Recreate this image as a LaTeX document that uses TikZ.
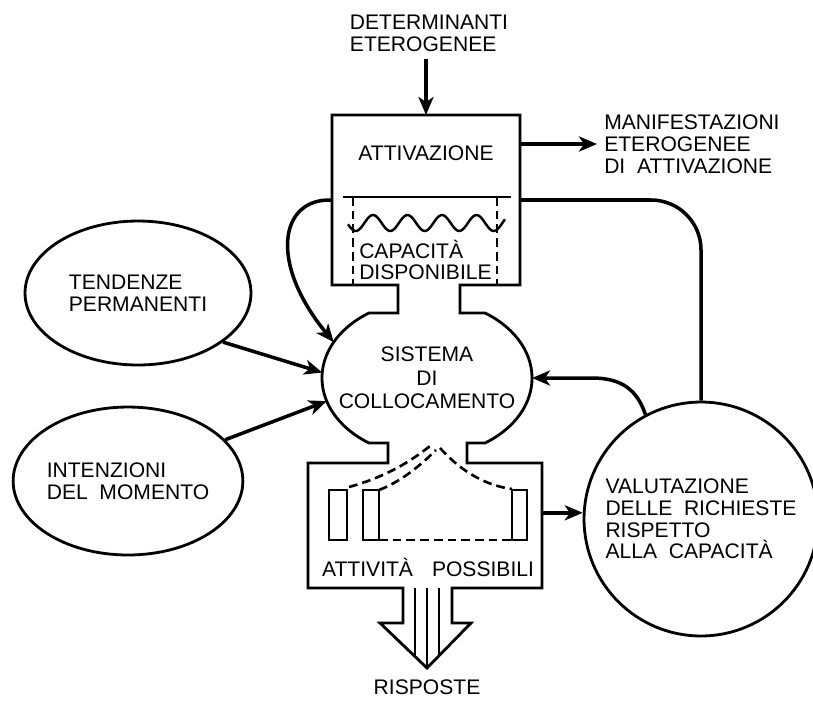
\documentclass[tikz,border=0pt]{standalone}
\usepackage{fontspec}
\setmainfont{Liberation Sans}
\usetikzlibrary{arrows.meta,shapes.geometric}

\tikzset{
  txt/.style={font=\fontsize{12}{12.4}\selectfont, align=left},
  oval/.style={draw, ellipse, inner sep=0pt, txt, minimum width=4.52cm},
  arr/.style={line width=2pt, -{Stealth[length=3.6mm,width=3mm,inset=1mm]}},
  dsh/.style={line width=1.5pt, dash pattern=on 5pt off 2.8pt},
  hold/.style={inner sep=0pt, outer sep=0pt},
}

\begin{document}
\begin{tikzpicture}[x=0.02cm, y=-0.02cm, line width=1.6pt]
  \useasboundingbox (0,0) rectangle (813,700);

  % invisible holders for the central blocks
  \node[hold, minimum width=3.76cm, minimum height=3.4cm] (attiv) at (426,200) {};
  \node[hold, ellipse, minimum width=4.2cm, minimum height=3.12cm] (sis) at (427,378) {};
  \node[hold, minimum width=4.68cm, minimum height=2.5cm] (poss) at (425,525.5) {};

  % outline: attivazione, neck, sistema, neck, attivita, output arrow
  \draw (398,285) -- (332,285) -- (332,115) -- (520,115) -- (520,285) -- (460,285)
    -- (460,313) -- (485,313) arc[start angle=56.5, end angle=-56.5, x radius=2.1cm, y radius=1.56cm]
    -- (467,443) -- (467,463) -- (542,463) -- (542,588) -- (452,588) -- (452,623)
    -- (471,623) -- (427,668) -- (380,623) -- (403,623) -- (403,588) -- (308,588)
    -- (308,463) -- (388,463) -- (388,443)
    -- (369,443) arc[start angle=236.5, end angle=123.5, x radius=2.1cm, y radius=1.56cm]
    -- (398,313) -- cycle;
  \draw (415,588) -- (415,657);
  \draw (427,588) -- (427,666);
  \draw (439,588) -- (439,657);

  % capacita disponibile
  \draw (343,197) -- (511,197);
  \draw[dsh] (353,197) -- (353,285);
  \draw[dsh] (497,197) -- (497,285);
  \draw[line width=1.4pt] plot[domain=348:505, samples=90, smooth] (\x, {223-8*cos(10.435*(\x-373))});

  % attivita possibili
  \draw (329,490) rectangle (347,540);
  \draw (363,490) rectangle (379,540);
  \draw (512,490) rectangle (527,540);
  \draw[dsh] (379,540) -- (512,540);
  \draw[dsh] (349,487) .. controls (385,477) and (410,462) .. (430,446);
  \draw[dsh] (379,490) .. controls (400,482) and (420,466) .. (436,450);
  \draw[dsh] (440,448) .. controls (458,468) and (482,485) .. (512,489);

  % texts
  \node[txt] (det) at (429,33) {DETERMINANTI\\ETEROGENEE};
  \node[txt] (attivlbl) at (426,153) {ATTIVAZIONE};
  \node[txt, anchor=west] (caplbl) at (352,260) {CAPACITÀ\\DISPONIBILE};
  \node[txt, anchor=west] (manif) at (597,144) {MANIFESTAZIONI\\ETEROGENEE\\DI~~ATTIVAZIONE};
  \node[txt, align=center, font=\fontsize{12}{13.5}\selectfont] (sislbl) at (sis) {SISTEMA\\DI\\COLLOCAMENTO};
  \node[txt] (posslbl) at (428,567) {ATTIVITÀ\hspace{0.9em}POSSIBILI};
  \node[txt] (risp) at (427,687) {RISPOSTE};

  \node[oval, minimum height=2.88cm] (tend) at (138,293) {TENDENZE\\PERMANENTI};
  \node[oval, minimum height=2.96cm] (intenz) at (128,481) {INTENZIONI\\DEL~~MOMENTO};
  \node[draw, circle, inner sep=0pt, txt, minimum size=4.68cm] (valut) at (701,519)
    {VALUTAZIONE\\DELLE~~RICHIESTE\\RISPETTO\\ALLA~~CAPACITÀ};

  % connectors
  \draw[arr] (det.south -| attiv.north) -- (attiv.north);
  \draw[arr] (attiv.east |- manif.west) -- (manif.west);
  \draw[arr] (attiv.west) .. controls (280,198) and (268,262) .. (sis.159);
  \draw[arr] (tend.-30) -- (sis.177);
  \draw[arr] (intenz.23) -- (sis.193);
  \draw[arr] (valut.118) .. controls (637,390) and (622,378) .. (592,378) -- (sis.east);
  \draw[line width=2pt, rounded corners=1cm] (attiv.east) -- (valut.north |- attiv.east) -- (valut.north);
  \draw[arr] (poss.east |- valut.177) -- (valut.177);
\end{tikzpicture}
\end{document}
